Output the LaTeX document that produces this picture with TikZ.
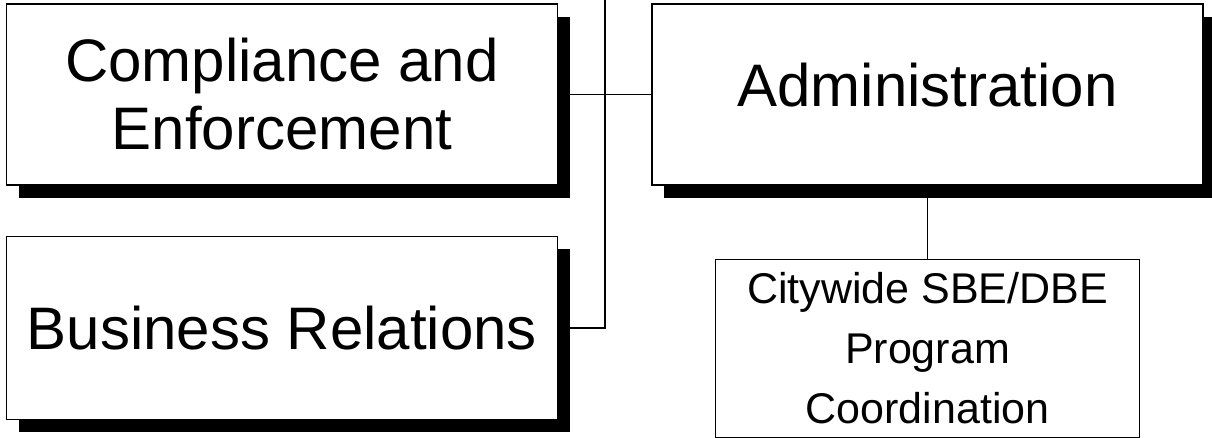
\documentclass[tikz,border=0pt]{standalone}
\usepackage{fontspec}
\setmainfont{Liberation Sans}
\usetikzlibrary{positioning,shadows}

\begin{document}
\begin{tikzpicture}[
          x=1pt, y=1pt,
          unit/.style={rectangle, draw, line width=1.5pt, fill=white, inner sep=0pt,
            minimum width=551pt, minimum height=181pt, align=center,
            font=\fontsize{60}{68}\selectfont,
            general shadow={fill=black, shadow xshift=12pt, shadow yshift=-13pt}},
          subunit/.style={rectangle, draw, line width=1.5pt, fill=white, inner sep=0pt,
            minimum width=424pt, minimum height=178pt, align=center,
            font=\fontsize{43}{60}\selectfont},
          link/.style={line width=1.5pt},
          node distance=50pt and 93pt
        ]
        \useasboundingbox (0,0) rectangle (1212,438);

        % Nodes
        \node[unit] (comp) at (282,343.5) {Compliance and\\Enforcement};
        \node[unit, right=of comp, text height=52pt, text depth=27pt] (admin) {Administration};
        \node[unit, below=of comp, minimum height=183pt] (bus) {Business Relations};
        \node[subunit, below=73pt of admin] (city) {Citywide SBE/DBE\\Program\\Coordination};
        \coordinate (feed) at (605,438);

        % Edges
        \draw[link] (feed) |- (bus.east);
        \draw[link] (comp.east) -- (admin.west);
        \draw[link] (admin.south) -- (city.north);

      \end{tikzpicture}
\end{document}
